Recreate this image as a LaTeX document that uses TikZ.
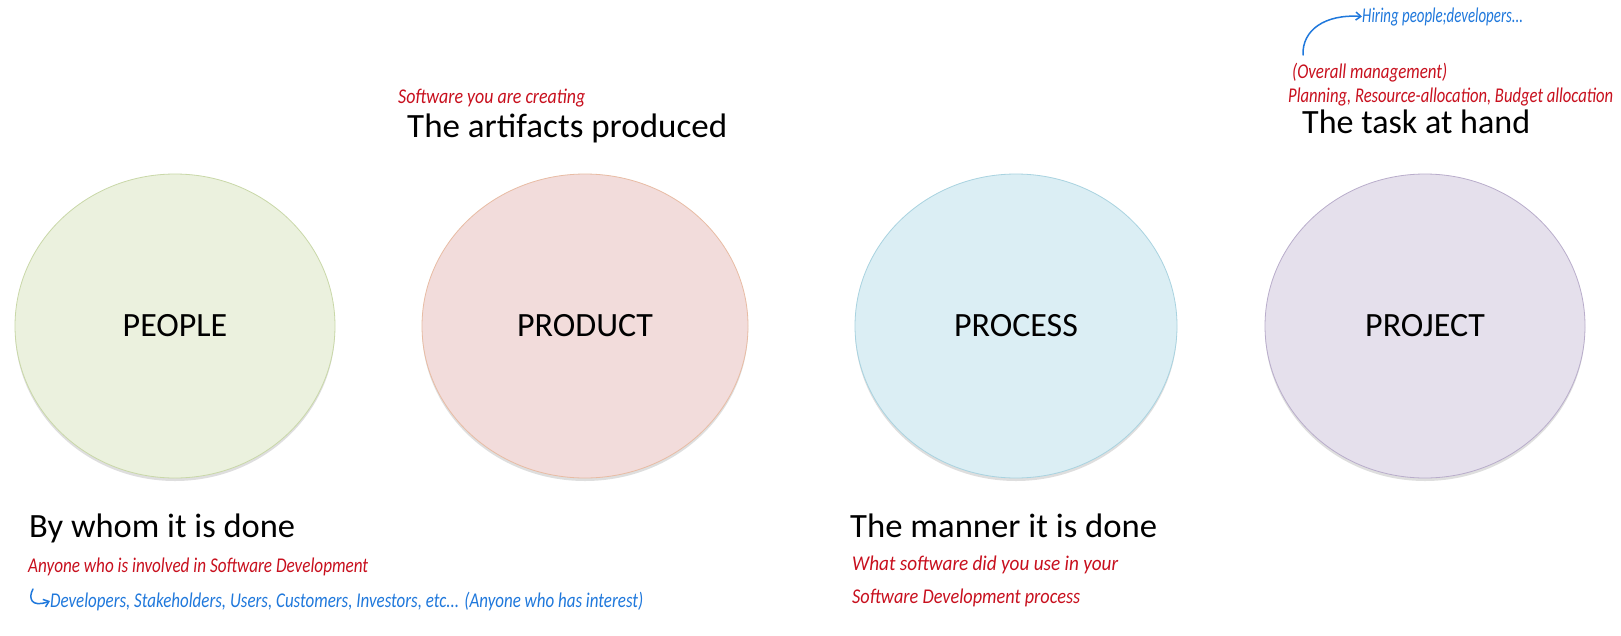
\documentclass[tikz,border=0pt]{standalone}
\usepackage{fontspec}
\setmainfont{Carlito}
\usetikzlibrary{shapes.geometric,shadows,arrows.meta}
\definecolor{hred}{HTML}{C8101E}
\definecolor{hblue}{HTML}{1F78DC}
\definecolor{pplfill}{HTML}{EBF1DE}\definecolor{pplline}{HTML}{C9D8A8}
\definecolor{prdfill}{HTML}{F2DCDB}\definecolor{prdline}{HTML}{E8BCA4}
\definecolor{prcfill}{HTML}{DBEEF4}\definecolor{prcline}{HTML}{A9D3E0}
\definecolor{prjfill}{HTML}{E5E0EC}\definecolor{prjline}{HTML}{B9ADCB}
\newcommand\hw[2]{\resizebox{#1pt}{\height}{#2}}
\tikzset{
  bubble/.style={ellipse, minimum height=304pt, inner sep=0pt, line width=0.8pt,
    font=\fontsize{34}{40}\selectfont,
    drop shadow={shadow xshift=0pt, shadow yshift=-3pt, opacity=0.13, fill=black}},
  heading/.style={anchor=base west, inner sep=0pt, font=\fontsize{34}{40}\selectfont},
  handred/.style={anchor=base west, inner sep=0pt, text=hred, font=\fontsize{21}{24}\selectfont\itshape},
  handblue/.style={anchor=base west, inner sep=0pt, text=hblue, font=\fontsize{21}{24}\selectfont\itshape},
  pen/.style={draw=hblue, line width=1.5pt, line cap=round, -{Straight Barb[length=5pt,width=8pt]}}
}
\begin{document}
\begin{tikzpicture}[x=1pt,y=-1pt]
\useasboundingbox[fill=white] (0,0) rectangle (1621,635);
% circles
\node[bubble, minimum width=320pt, fill=pplfill, draw=pplline] (people) at (175,326) {PEOPLE};
\node[bubble, minimum width=326pt, fill=prdfill, draw=prdline] (product) at (585,326) {PRODUCT};
\node[bubble, minimum width=322pt, fill=prcfill, draw=prcline] (process) at (1016,326) {PROCESS};
\node[bubble, minimum width=320pt, fill=prjfill, draw=prjline] (project) at (1425,326) {PROJECT};
% headings
\node[heading] (artifacts) at (407,137) {\resizebox{320pt}{\height}{The artifacts produced}};
\node[heading] (task) at (1302,133) {\resizebox{228pt}{\height}{The task at hand}};
\node[heading] (whom) at (29,537) {\resizebox{266pt}{\height}{By whom it is done}};
\node[heading] (manner) at (850,537) {\resizebox{307pt}{\height}{The manner it is done}};
% handwritten notes
\node[handred] (sw) at (398,103) {\hw{187}{Software you are creating}};
\node[handred] (overall) at (1292,78) {\hw{155}{(Overall management)}};
\node[handred] (planning) at (1288,102) {\hw{325}{Planning, Resource-allocation, Budget allocation}};
\node[handblue] (hiring) at (1362,22) {\hw{161}{Hiring people;developers...}};
\node[handred] (anyone) at (28,572) {\hw{340}{Anyone who is involved in Software Development}};
\node[handblue] (devs) at (50,607) {\hw{593}{Developers, Stakeholders, Users, Customers, Investors, etc... (Anyone who has interest)}};
\node[handred] (what) at (852,570) {\hw{266}{What software did you use in your}};
\node[handred] (sdp) at (852,603) {\hw{228}{Software Development process}};
% pen arrows
\coordinate (a1) at (1303,55);
\coordinate (a2) at (33,589);
\draw[pen] (a1) .. controls (1302,30) and (1325,14) .. (hiring.west);
\draw[pen] (a2) .. controls (28,598) and (31,608) .. (devs.west);
\end{tikzpicture}
\end{document}
